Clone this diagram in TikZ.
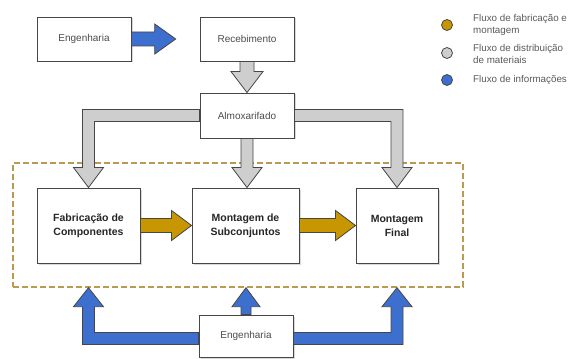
\documentclass[tikz,border=0pt]{standalone}
\usepackage{fontspec}
\setmainfont{Liberation Sans}
\usetikzlibrary{shadows,calc}

\definecolor{infoblue}{RGB}{61,112,206}
\definecolor{fabgold}{RGB}{200,150,0}
\definecolor{matgray}{RGB}{206,206,206}
\definecolor{edgegray}{RGB}{70,70,70}
\definecolor{cellline}{RGB}{186,154,80}

\tikzset{
  box/.style={draw=edgegray, fill=white, line width=0.9pt, inner sep=0pt, align=center,
    drop shadow={shadow xshift=1.5pt, shadow yshift=-1.5pt, opacity=0.3},
    font=\fontsize{10}{14}\selectfont, text=black!70},
  boldbox/.style={box, font=\fontsize{10.5}{14}\selectfont\bfseries, text=black!85},
  fat/.style={draw=edgegray, line width=0.8pt, line join=miter},
  cellframe/.style={draw=cellline, line width=1.4pt, dash pattern=on 6pt off 3pt},
  legdot/.style={circle, draw=edgegray, line width=0.8pt, minimum size=11pt, inner sep=0pt},
  legtext/.style={anchor=west, align=left, inner sep=0pt, font=\fontsize{9.8}{12.5}\selectfont, text=black!65}
}

\begin{document}
\begin{tikzpicture}[x=1pt, y=-1pt]
  \useasboundingbox (0,0) rectangle (569,358);

  % Frame round the production cells
  \node[cellframe, minimum width=450pt, minimum height=124pt] (cell) at (238,225) {};

  % Boxes
  \node[box, minimum width=94pt, minimum height=44pt] (eng1) at (84,39) {Engenharia};
  \node[box, minimum width=94pt, minimum height=44pt] (rec) at (247,39) {Recebimento};
  \node[box, minimum width=94pt, minimum height=45pt] (almox) at (247,115.5) {Almoxarifado};
  \node[boldbox, minimum width=103pt, minimum height=75pt] (fab) at (88.5,225.5) {Fabricação de\\Componentes};
  \node[boldbox, minimum width=107pt, minimum height=75pt] (sub) at (245.5,225.5) {Montagem de\\Subconjuntos};
  \node[boldbox, minimum width=82pt, minimum height=75pt] (fin) at (397,225.5) {Montagem\\Final};
  \node[box, minimum width=94pt, minimum height=42pt] (eng2) at (246,336) {Engenharia};

  % Information flow: Engenharia -> Recebimento
  \coordinate (engtip) at ($(eng1.east)!0.65!(rec.west)$);
  \draw[fat, fill=infoblue] let \p1=(eng1.east), \p2=(engtip) in
    (\x1,\y1+7pt) -- (\x2-21pt,\y1+7pt) -- (\x2-21pt,\y1+15pt) -- (\x2,\y1)
    -- (\x2-21pt,\y1-15pt) -- (\x2-21pt,\y1-7pt) -- (\x1,\y1-7pt) -- cycle;

  % Material flow (gray)
  \draw[fat, fill=matgray] let \p1=(rec.south), \p2=(almox.north) in
    (\x1-7pt,\y1) -- (\x1+7pt,\y1) -- (\x1+7pt,\y2+21pt) -- (\x1+16pt,\y2+21pt) -- (\x1,\y2)
    -- (\x1-16pt,\y2+21pt) -- (\x1-7pt,\y2+21pt) -- cycle;
  \draw[fat, fill=matgray] let \p1=(almox.south), \p2=(sub.north) in
    (\x1-6pt,\y1) -- (\x1+6pt,\y1) -- (\x1+6pt,\y2+20pt) -- (\x1+15pt,\y2+20pt) -- (\x1,\y2)
    -- (\x1-15pt,\y2+20pt) -- (\x1-6pt,\y2+20pt) -- cycle;
  \draw[fat, fill=matgray] let \p1=(almox.west), \p2=(fab.north) in
    (\x1,\y1+6pt) -- (\x2-6pt,\y1+6pt) -- (\x2-6pt,\y2+20pt) -- (\x2-15pt,\y2+20pt) -- (\x2,\y2)
    -- (\x2+15pt,\y2+20pt) -- (\x2+6pt,\y2+20pt) -- (\x2+6pt,\y1-6pt) -- (\x1,\y1-6pt) -- cycle;
  \draw[fat, fill=matgray] let \p1=(almox.east), \p2=(fin.north) in
    (\x1,\y1+6pt) -- (\x2+6pt,\y1+6pt) -- (\x2+6pt,\y2+20pt) -- (\x2+15pt,\y2+20pt) -- (\x2,\y2)
    -- (\x2-15pt,\y2+20pt) -- (\x2-6pt,\y2+20pt) -- (\x2-6pt,\y1-6pt) -- (\x1,\y1-6pt) -- cycle;

  % Manufacturing flow (gold)
  \draw[fat, fill=fabgold] let \p1=(fab.east), \p2=(sub.west) in
    (\x1,\y1+7pt) -- (\x2-20pt,\y1+7pt) -- (\x2-20pt,\y1+15pt) -- (\x2,\y1)
    -- (\x2-20pt,\y1-15pt) -- (\x2-20pt,\y1-7pt) -- (\x1,\y1-7pt) -- cycle;
  \draw[fat, fill=fabgold] let \p1=(sub.east), \p2=(fin.west) in
    (\x1,\y1+7pt) -- (\x2-20pt,\y1+7pt) -- (\x2-20pt,\y1+15pt) -- (\x2,\y1)
    -- (\x2-20pt,\y1-15pt) -- (\x2-20pt,\y1-7pt) -- (\x1,\y1-7pt) -- cycle;

  % Information flow from the bottom Engenharia
  \draw[fat, fill=infoblue] let \p1=(eng2.north), \p2=(cell.south) in
    (\x1-5pt,\y1) -- (\x1+5pt,\y1) -- (\x1+5pt,\y2-19pt) -- (\x1+14pt,\y2-19pt) -- (\x1,\y2)
    -- (\x1-14pt,\y2-19pt) -- (\x1-5pt,\y2-19pt) -- cycle;
  \draw[fat, fill=infoblue] let \p1=($(eng2.west)+(0,2.5)$), \p2=(fab.south |- cell.south) in
    (\x1,\y1+6pt) -- (\x2+6pt,\y1+6pt) -- (\x2+6pt,\y2-19pt) -- (\x2+15pt,\y2-19pt) -- (\x2,\y2)
    -- (\x2-15pt,\y2-19pt) -- (\x2-6pt,\y2-19pt) -- (\x2-6pt,\y1-6pt) -- (\x1,\y1-6pt) -- cycle;
  \draw[fat, fill=infoblue] let \p1=($(eng2.east)+(0,2.5)$), \p2=(fin.south |- cell.south) in
    (\x1,\y1+6pt) -- (\x2-6pt,\y1+6pt) -- (\x2-6pt,\y2-19pt) -- (\x2-15pt,\y2-19pt) -- (\x2,\y2)
    -- (\x2+15pt,\y2-19pt) -- (\x2+6pt,\y2-19pt) -- (\x2+6pt,\y1-6pt) -- (\x1,\y1-6pt) -- cycle;

  % Legend
  \node[legdot, fill=fabgold] (dotfab) at (447,25) {};
  \node[legdot, fill=matgray] (dotmat) at (447,53) {};
  \node[legdot, fill=infoblue] (dotinfo) at (447,80) {};
  \node[legtext] (txtfab) at (473,25) {Fluxo de fabricação e\\montagem};
  \node[legtext] (txtmat) at (473,54) {Fluxo de distribuição\\de materiais};
  \node[legtext] (txtinfo) at (473,80) {Fluxo de informações};
\end{tikzpicture}
\end{document}
